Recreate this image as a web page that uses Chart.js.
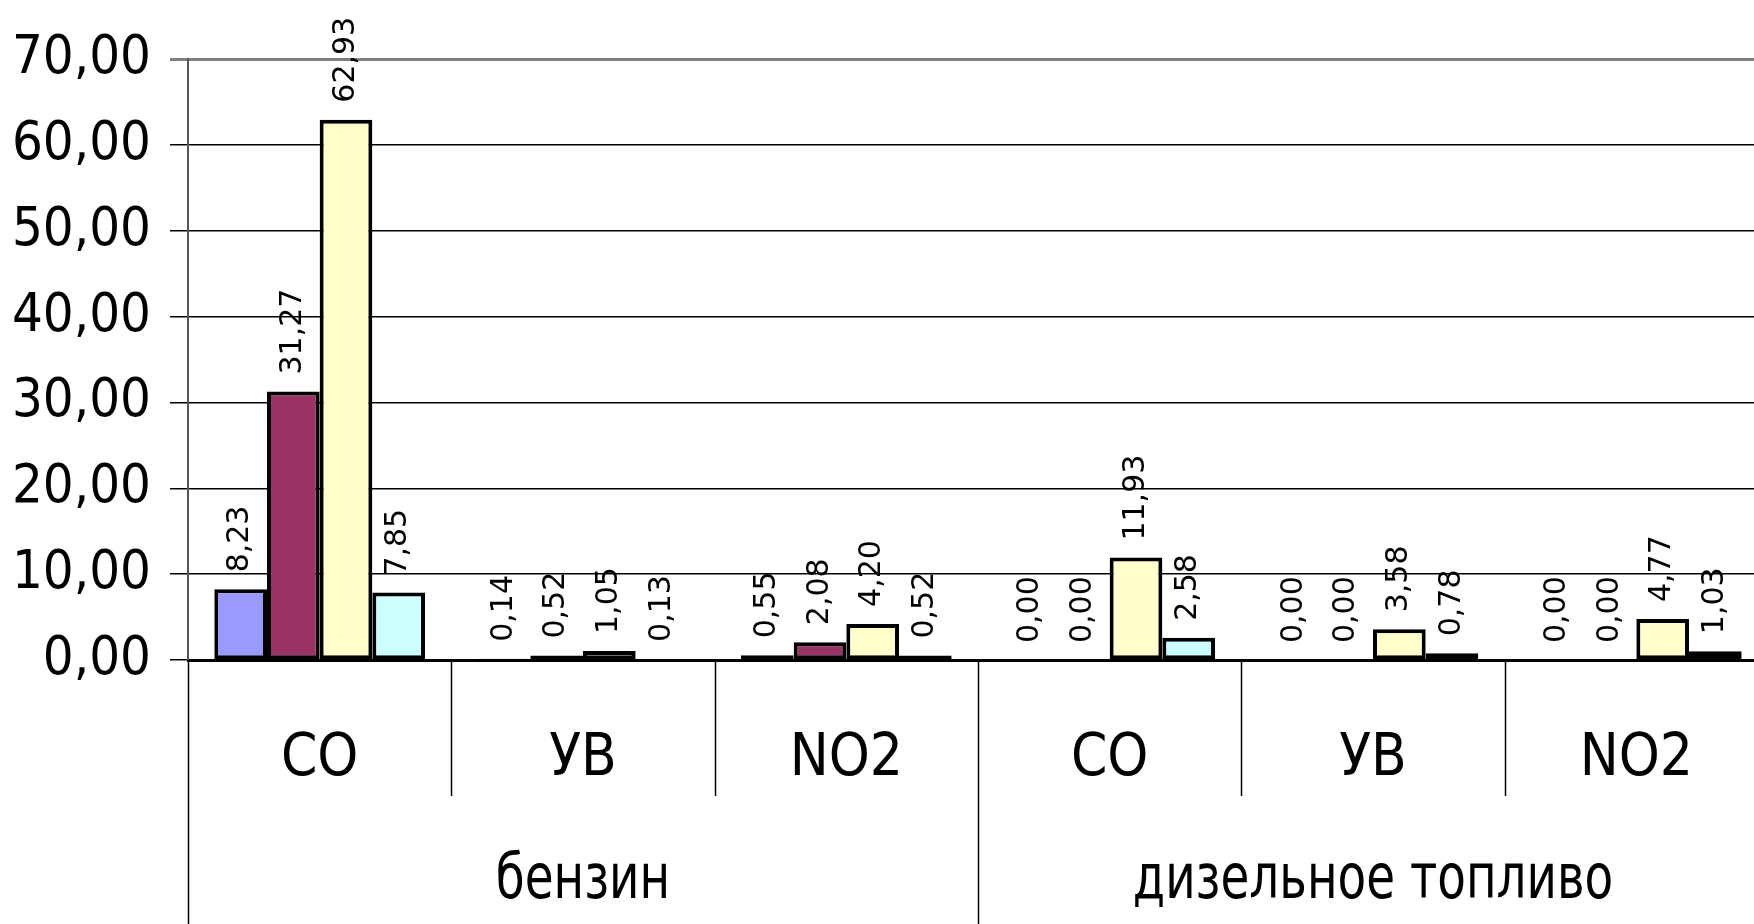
<!DOCTYPE html>
<html>
<head>
<meta charset="utf-8">
<script src="https://cdn.jsdelivr.net/npm/chart.js@4.4.1/dist/chart.umd.min.js"></script>
<style>
  body { margin: 0; background: #fff; overflow: hidden; }
</style>
</head>
<body>
<canvas id="myChart" width="1768" height="924"></canvas>
<script>
const labels = ['CO', 'УВ', 'NO2', 'CO', 'УВ', 'NO2'];
const groups = ['бензин', 'дизельное топливо'];
const series1 = [8.23, 0.14, 0.55, 0.00, 0.00, 0.00];
const series2 = [31.27, 0.52, 2.08, 0.00, 0.00, 0.00];
const series3 = [62.93, 1.05, 4.20, 11.93, 3.58, 4.77];
const series4 = [7.85, 0.13, 0.52, 2.58, 0.78, 1.03];
const yMin = 0, yMax = 70, yStep = 10;

const allSeries = [series1, series2, series3, series4];
const colors = ['#9999FF', '#993366', '#FFFFCC', '#CCFFFF'];
const narrow = "'DejaVu Sans Condensed', 'DejaVu Sans', sans-serif";

const fmt = v => v.toFixed(2).replace('.', ',');

// value labels, category separators and the group row underneath
const extras = {
  id: 'extras',
  afterDatasetsDraw(chart) {
    const ctx = chart.ctx;
    const y = chart.scales.y;
    ctx.save();
    ctx.font = '30px "DejaVu Sans"';
    ctx.fillStyle = '#000';
    ctx.textAlign = 'left';
    ctx.textBaseline = 'middle';
    allSeries.forEach((vals, di) => {
      const meta = chart.getDatasetMeta(di);
      meta.data.forEach((bar, i) => {
        ctx.save();
        ctx.translate(bar.x, y.getPixelForValue(vals[i]) - 17);
        ctx.rotate(-Math.PI / 2);
        ctx.fillText(fmt(vals[i]), 0, 0);
        ctx.restore();
      });
    });
    ctx.restore();
  },
  afterDraw(chart) {
    const ctx = chart.ctx;
    const x = chart.scales.x;
    const bottom = chart.scales.y.bottom;
    ctx.save();
    ctx.strokeStyle = '#000';
    ctx.lineWidth = 1.5;
    for (let i = 0; i <= labels.length; i++) {
      const px = Math.round(x.getPixelForValue(i - 0.5)) + 0.5;
      ctx.beginPath();
      ctx.moveTo(px, bottom);
      ctx.lineTo(px, i % 3 === 0 ? chart.height : 796);
      ctx.stroke();
    }
    ctx.font = '62px ' + narrow;
    ctx.fillStyle = '#000';
    ctx.textAlign = 'center';
    ctx.textBaseline = 'alphabetic';
    groups.forEach((g, gi) => {
      const cx = (x.getPixelForValue(gi * 3 - 0.5) + x.getPixelForValue(gi * 3 + 2.5)) / 2;
      ctx.save();
      ctx.translate(cx, 898);
      ctx.scale(0.84, 1);
      ctx.fillText(g, 0, 0);
      ctx.restore();
    });
    ctx.restore();
  }
};

const data = {
  labels: labels,
  datasets: allSeries.map((s, i) => ({
    label: 'Ряд ' + (i + 1),
    data: s,
    backgroundColor: colors[i],
    borderColor: '#000',
    borderWidth: 4,
    borderSkipped: false,
    categoryPercentage: 0.8,
    barPercentage: 1.0
  }))
};

const config = {
  type: 'bar',
  data: data,
  options: {
    responsive: false,
    animation: false,
    layout: { padding: { top: 59, right: 0, bottom: 0, left: 0 } },
    plugins: {
      legend: { display: false },
      tooltip: { enabled: false }
    },
    scales: {
      x: {
        offset: true,
        grid: { drawOnChartArea: false, drawTicks: false },
        border: { color: '#000', width: 3 },
        ticks: {
          color: '#000',
          font: { family: narrow, size: 58 },
          padding: 65,
          maxRotation: 0,
          autoSkip: false
        },
        afterFit: s => { s.height = 264; }
      },
      y: {
        min: yMin,
        max: yMax,
        ticks: {
          stepSize: yStep,
          callback: v => fmt(v),
          color: '#000',
          font: { family: narrow, size: 54 },
          padding: 19
        },
        grid: {
          color: c => (c.tick && c.tick.value === yMax) ? '#808080' : '#000',
          lineWidth: c => (c.tick && c.tick.value === yMax) ? 3 : 1.5,
          tickLength: 18
        },
        border: { color: '#555', width: 2 },
        afterFit: s => { s.width = 188; }
      }
    }
  },
  plugins: [extras]
};

const myChart = new Chart(
  document.getElementById('myChart').getContext('2d'),
  config
);
</script>
</body>
</html>
